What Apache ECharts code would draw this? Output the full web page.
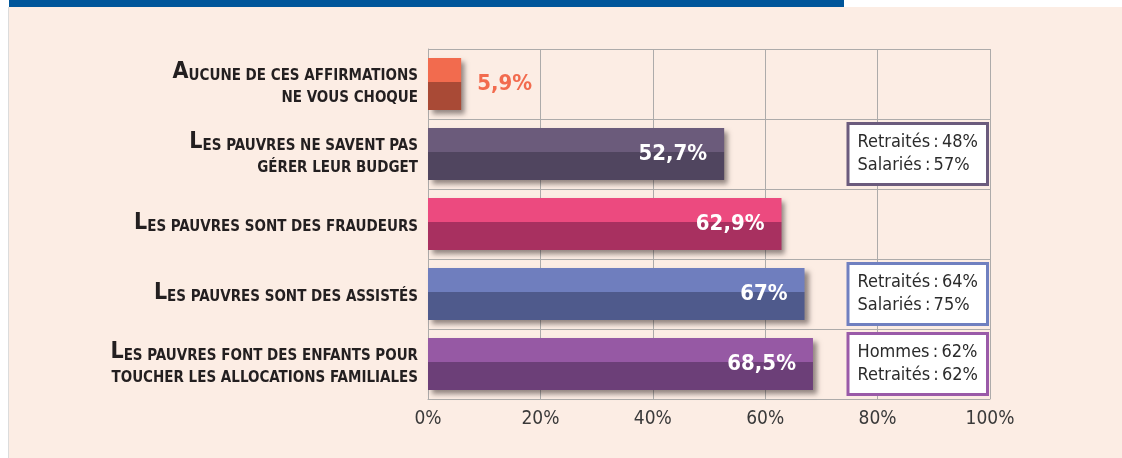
<!DOCTYPE html>
<html lang="fr">
<head>
<meta charset="utf-8">
<title>Les préjugés sur les pauvres</title>
<script src="https://cdn.jsdelivr.net/npm/echarts@6/dist/echarts.min.js"></script>
<style>
  html, body { margin: 0; padding: 0; width: 1122px; height: 458px; overflow: hidden; background: #ffffff; }
  #panel { position: absolute; left: 8px; top: 7px; right: 0; bottom: 0; background: #fcede4; border-left: 1px solid #dcdcdc; }
  #band { position: absolute; left: 9px; top: 0; width: 835px; height: 7px; background: #00569a; }
  #chart { position: absolute; left: 0; top: 0; width: 1122px; height: 458px; }
</style>
</head>
<body>
<div id="panel"></div>
<div id="band"></div>
<div id="chart"></div>
<script>
// Statements, top to bottom
const categories = [
  'Aucune de ces affirmations\nne vous choque',
  'Les pauvres ne savent pas\ngérer leur budget',
  'Les pauvres sont des fraudeurs',
  'Les pauvres sont des assistés',
  'Les pauvres font des enfants pour\ntoucher les allocations familiales'
];
// Share of respondents shocked by each statement (%)
const shares = [5.9, 52.7, 62.9, 67, 68.5];
// Detail boxes: row index and their two lines
const noteRows = [1, 3, 4];
const noteLines = [
  ['Retraités\u2009:\u200948%', 'Salariés\u2009:\u200957%'],
  ['Retraités\u2009:\u200964%', 'Salariés\u2009:\u200975%'],
  ['Hommes\u2009:\u200962%', 'Retraités\u2009:\u200962%']
];

// Palette: upper / lower half of each bar, and box borders
const lightColors = ['#f26b4e', '#6b5b7b', '#ec4a7f', '#6f7ebe', '#9659a4'];
const darkColors  = ['#a94a36', '#50455f', '#a83060', '#4f5a8c', '#6c3f78'];
const noteBorders = ['#6b5b7d', '#7080c0', '#9a5aa8'];

const FONT = '"Liberation Sans Narrow", "DejaVu Sans Condensed", "Arial Narrow", sans-serif';
const GRID = '#adabaa';

function twoTone(i) {
  return {
    type: 'linear', x: 0, y: 0, x2: 0, y2: 1,
    colorStops: [
      { offset: 0, color: lightColors[i] },
      { offset: 0.46, color: lightColors[i] },
      { offset: 0.46, color: darkColors[i] },
      { offset: 1, color: darkColors[i] }
    ]
  };
}

function fmtPct(v) {
  return String(v).replace('.', ',') + '%';
}

const barData = shares.map(function (v, i) {
  const item = { value: v, itemStyle: { color: twoTone(i) } };
  if (i === 0) {
    item.label = { position: 'right', distance: 16, color: lightColors[0] };
  }
  return item;
});

const noteData = noteRows.map(function (row, i) {
  return {
    value: [100, categories[row]],
    label: {
      borderColor: noteBorders[i],
      formatter: noteLines[i].map(function (l) { return '{t|' + l + '}'; }).join('\n')
    }
  };
});

const chart = echarts.init(document.getElementById('chart'), null, { renderer: 'canvas' });
chart.setOption({
  backgroundColor: 'transparent',
  animation: false,
  grid: { left: 428, right: 132, top: 49, bottom: 59, containLabel: false },
  xAxis: {
    type: 'value', min: 0, max: 100, interval: 20,
    axisLine: { show: true, lineStyle: { color: GRID, width: 1 } },
    axisTick: { show: false },
    splitLine: { show: true, lineStyle: { color: GRID, width: 1 } },
    axisLabel: {
      formatter: '{value}%', margin: 11, color: '#3a3a3a',
      fontSize: 19, fontFamily: FONT
    }
  },
  yAxis: {
    type: 'category', data: categories, inverse: true,
    axisLine: { show: true, lineStyle: { color: GRID, width: 1 } },
    axisTick: { show: false },
    splitLine: { show: true, lineStyle: { color: GRID, width: 1 } },
    axisLabel: {
      margin: 10,
      formatter: function (label) {
        return label.split('\n').map(function (line, i) {
          const up = line.toUpperCase();
          if (i === 0) return '{cap|' + up.charAt(0) + '}{sc|' + up.slice(1) + '}';
          return '{sc|' + up + '}';
        }).join('\n');
      },
      rich: {
        cap: { fontSize: 23, fontWeight: 'bold', fontFamily: FONT, color: '#231f20', lineHeight: 22, verticalAlign: 'bottom' },
        sc:  { fontSize: 15, fontWeight: 'bold', fontFamily: FONT, color: '#231f20', lineHeight: 22, verticalAlign: 'bottom' }
      }
    }
  },
  series: [
    {
      type: 'bar',
      data: barData,
      barWidth: 52,
      z: 3,
      itemStyle: {
        shadowColor: 'rgba(40, 30, 30, 0.5)',
        shadowBlur: 5,
        shadowOffsetX: 4,
        shadowOffsetY: 4
      },
      label: {
        show: true,
        position: 'insideRight',
        distance: 17,
        color: '#ffffff',
        fontSize: 22,
        fontWeight: 'bold',
        fontFamily: FONT,
        formatter: function (p) { return fmtPct(p.value); }
      }
    },
    {
      type: 'scatter',
      data: noteData,
      symbolSize: 0,
      silent: true,
      z: 5,
      itemStyle: { opacity: 1 },
      label: {
        show: true,
        opacity: 1,
        position: 'left',
        distance: 4,
        backgroundColor: '#ffffff',
        borderWidth: 3,
        padding: [6, 8, 6, 8],
        rich: {
          t: { fontSize: 18, lineHeight: 23, color: '#2b2b2b', fontFamily: FONT, align: 'left' }
        }
      }
    }
  ]
});
</script>
</body>
</html>
